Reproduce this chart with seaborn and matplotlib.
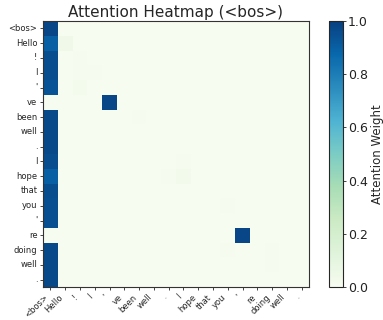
import matplotlib
matplotlib.use("Agg")
import matplotlib.pyplot as plt
import numpy as np
import pandas as pd
import seaborn as sns

tokens = ["<bos>", "Hello", "!", "I", "'", "ve", "been", "well", ".",
          "I", "hope", "that", "you", "'", "re", "doing", "well", "."]

# attention weight on the <bos> column for every query row
bos_weights = [0.98, 0.90, 0.96, 0.96, 0.94, 0.0, 0.97, 0.97, 0.97,
               0.96, 0.90, 0.96, 0.95, 0.95, 0.0, 0.97, 0.97, 0.97]

# (row, col, weight) for the cells off the <bos> column
extra_cells = [
    (1, 1, 0.04), (2, 2, 0.015), (3, 2, 0.015), (3, 3, 0.015), (4, 2, 0.02),
    (5, 4, 0.98), (6, 6, 0.015), (9, 9, 0.015), (10, 8, 0.012), (10, 9, 0.03),
    (12, 12, 0.012), (14, 13, 0.98), (15, 12, 0.012), (15, 15, 0.012), (16, 15, 0.012),
]

n = len(tokens)
weights = np.zeros((n, n))
weights[:, 0] = bos_weights
for r, c, w in extra_cells:
    weights[r, c] = w

df = pd.DataFrame(weights, index=range(n), columns=range(n))

sns.set_style("white")
fig = plt.figure(figsize=(3.83, 3.2), dpi=100)
ax = fig.add_axes([43 / 383, 33 / 320, 266 / 383, 266 / 320])
cax = fig.add_axes([329 / 383, 33 / 320, 14 / 383, 266 / 320])
sns.heatmap(df, cmap="GnBu", vmin=0, vmax=1, ax=ax, cbar=False)

ax.set_xticks(np.arange(n) + 0.5)
ax.set_xticklabels(tokens, rotation=45, ha="right", fontsize=6)
ax.set_yticks(np.arange(n) + 0.5)
ax.set_yticklabels(tokens, rotation=0, fontsize=6)
ax.tick_params(length=2.5, width=0.6, pad=1.5, bottom=True, left=True)
for s in ax.spines.values():
    s.set_visible(True)
    s.set_linewidth(0.8)
    s.set_color("#333333")
ax.set_title("Attention Heatmap (<bos>)", fontsize=11, pad=3)

cbar = fig.colorbar(ax.collections[0], cax=cax)
cbar.outline.set_linewidth(0.8)
cbar.ax.tick_params(labelsize=9, length=2, width=0.6, pad=1.5, right=True,
                    colors="#222222")
cbar.set_label("Attention Weight", fontsize=8.5, labelpad=2)

plt.savefig("out.png", dpi=100)
